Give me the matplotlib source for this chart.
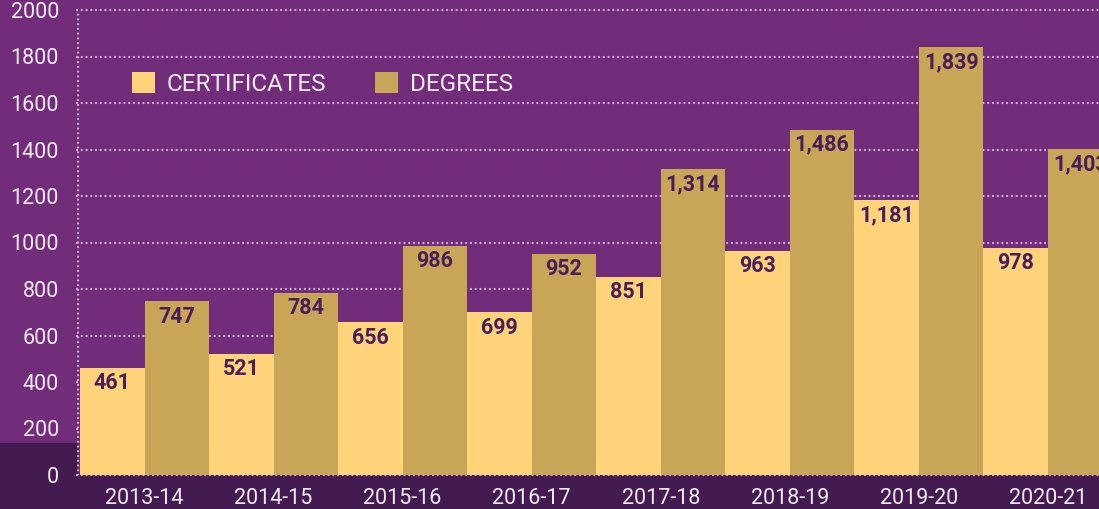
import matplotlib
matplotlib.use("Agg")
import matplotlib.pyplot as plt
from matplotlib.patches import Rectangle
import numpy as np

years = ["2013-14", "2014-15", "2015-16", "2016-17", "2017-18", "2018-19", "2019-20", "2020-21"]
certificates = [461, 521, 656, 699, 851, 963, 1181, 978]
degrees = [747, 784, 986, 952, 1314, 1486, 1839, 1403]
yticks = [0, 200, 400, 600, 800, 1000, 1200, 1400, 1600, 1800, 2000]

BG = "#722D7A"
DARK = "#431B50"
CERT = "#FFD37A"
DEG = "#C9A557"
LABEL = "#4A1E5A"
TXT = "#F3EAF4"
GRID = "#CDB0D3"

W, H = 1099, 509
fig = plt.figure(figsize=(W / 100, H / 100), dpi=100, facecolor=BG)
plt.rcParams['font.family'] = ['Roboto', 'DejaVu Sans']

# dark band at the bottom
fig.patches.append(Rectangle((0, 0), 1, 34 / H, transform=fig.transFigure, color=DARK, zorder=-5))
fig.patches.append(Rectangle((0, 0), 77 / W, (509 - 443) / H, transform=fig.transFigure, color=DARK, zorder=-5))

ax = fig.add_axes([77 / W, 34 / H, 1 - 77 / W, 465 / H])
ax.set_facecolor("none")
ax.set_zorder(2)

x = np.arange(len(years))
bw = 0.5
b1 = ax.bar(x - bw / 2, certificates, bw, color=CERT, zorder=3, label="CERTIFICATES")
b2 = ax.bar(x + bw / 2, degrees, bw, color=DEG, zorder=3, label="DEGREES")

for bars in (b1, b2):
    for r in bars:
        v = r.get_height()
        ax.annotate(f"{int(v):,}", (r.get_x() + r.get_width() / 2, v),
                    xytext=(0, -11), textcoords="offset points",
                    ha="center", va="center", fontsize=15.5, fontweight="bold",
                    color=LABEL, zorder=4, annotation_clip=False)

ax.set_xlim(-0.5 - 3 / 129, (W - 145) / 129)
ax.set_ylim(0, 2000)
ax.set_yticks(yticks)
ax.set_xticks(x)
ax.set_xticklabels(years)
ax.tick_params(axis="both", length=0, colors=TXT, labelsize=15.5)
ax.tick_params(axis="y", pad=13)
ax.tick_params(axis="x", pad=9)

for s in ax.spines.values():
    s.set_visible(False)

dot = (0, (0.01, 2.0))
for yv in yticks:
    ax.axhline(yv, color=GRID, lw=1.7, ls=dot, dash_capstyle="round", zorder=1, clip_on=False)
ax.axvline(-0.5 - 2 / 129, color=GRID, lw=1.7, ls=dot, dash_capstyle="round", zorder=1)

leg = ax.legend(loc="upper left", bbox_to_anchor=(45 / (W - 77), 1 - 52 / 465), ncol=2,
                frameon=False, fontsize=17.5, labelcolor=TXT, handlelength=0.95, handleheight=0.95,
                columnspacing=2.0, handletextpad=0.5, borderaxespad=0)

fig.savefig("out.png", dpi=100, facecolor=BG)
